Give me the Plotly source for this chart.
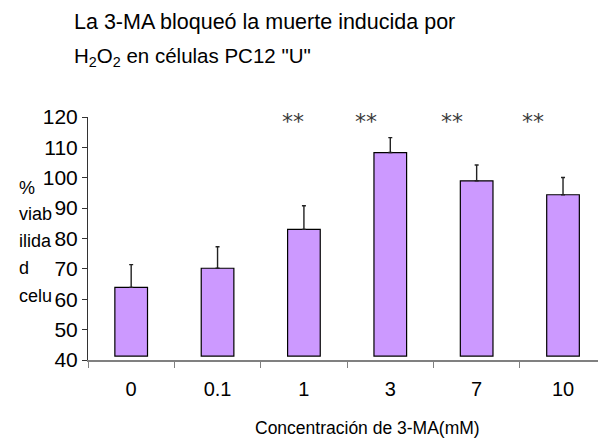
import plotly.graph_objects as go

# Concentraciones de 3-MA (mM) y viabilidad celular (% media + error)
concentraciones = ["0", "0.1", "1", "3", "7", "10"]
viabilidad = [63.9, 70.2, 83.0, 108.3, 99.0, 94.4]
error_sup = [7.5, 7.1, 7.8, 4.9, 5.2, 5.7]
base_barras = 41.3

# Marcas de significancia (**) junto a las barras tratadas
sig_x = [1.87, 2.72, 3.72, 4.65]
sig_y = [118.5, 118.5, 118.5, 118.5]
sig_txt = ["**", "**", "**", "**"]

y_ticks = [40, 50, 60, 70, 80, 90, 100, 110, 120]

titulo = ["La 3-MA bloqueó la muerte inducida por",
          "H<sub>2</sub>O<sub>2</sub> en células PC12 \"U\""]
titulo_y_eje = ["%", "viab", "ilida", "d", "celu"]
titulo_x_eje = "Concentración de 3-MA(mM)"

FONT = "Liberation Sans, Arial, sans-serif"

W, H = 598, 443
L, R, T, B = 87.5, 0, 116.7, 83
ph = H - T - B
pw = W - L - R


def px_x(px):
    return (px - L) / pw


def px_y(py):
    return (H - B - py) / ph


fig = go.Figure()
fig.add_trace(go.Bar(
    x=concentraciones,
    y=[v - base_barras for v in viabilidad],
    base=base_barras,
    width=0.378,
    marker=dict(color="#CC99FF", line=dict(color="#000000", width=1.2)),
    error_y=dict(type="data", array=error_sup, arrayminus=[0] * len(error_sup),
                 symmetric=False, color="#222222", thickness=1.4, width=2),
    showlegend=False,
))

annotations = []
for xs, ys, t in zip(sig_x, sig_y, sig_txt):
    annotations.append(dict(x=xs, y=ys, xref="x", yref="y", text=t, showarrow=False,
                            font=dict(family="DejaVu Sans, sans-serif",
                                      size=22, color="#3a3a3a"),
                            xanchor="center", yanchor="middle", yshift=0))

# Título en dos líneas
for linea, yc, tam in zip(titulo, [22, 57], [21.5, 20.5]):
    annotations.append(dict(x=px_x(71), y=px_y(yc), xref="paper", yref="paper",
                            text=linea, showarrow=False, xanchor="left", yanchor="middle",
                            font=dict(family=FONT, size=tam, color="#000000")))

# Título del eje y, partido en líneas a la izquierda
for linea, yc in zip(titulo_y_eje, [188, 214, 241, 268, 296]):
    annotations.append(dict(x=px_x(16), y=px_y(yc), xref="paper", yref="paper",
                            text=linea, showarrow=False, xanchor="left", yanchor="middle",
                            font=dict(family=FONT, size=18, color="#000000")))

# Título del eje x
annotations.append(dict(x=px_x(367), y=px_y(428), xref="paper", yref="paper",
                        text=titulo_x_eje, showarrow=False,
                        xanchor="center", yanchor="middle",
                        font=dict(family=FONT, size=17.5, color="#000000")))

fig.update_layout(
    width=W, height=H,
    margin=dict(l=L, r=R, t=T, b=B, pad=0),
    paper_bgcolor="white", plot_bgcolor="white",
    annotations=annotations,
    bargap=0.6,
)
fig.update_xaxes(type="category", range=[-0.5, 5.405], tickson="boundaries",
                 ticks="outside", ticklen=6, tickcolor="#808080", tickwidth=1.2,
                 showline=True, linecolor="#808080", linewidth=1.6,
                 showgrid=False, zeroline=False, ticklabelstandoff=10,
                 tickfont=dict(family=FONT, size=20, color="#000000"))
fig.update_yaxes(range=[40, 120], tickvals=y_ticks,
                 ticks="outside", ticklen=5, tickcolor="#333333", tickwidth=1,
                 showline=True, linecolor="#333333", linewidth=1,
                 showgrid=False, zeroline=False,
                 tickfont=dict(family=FONT, size=21, color="#000000"))

fig.write_html("out.html")
